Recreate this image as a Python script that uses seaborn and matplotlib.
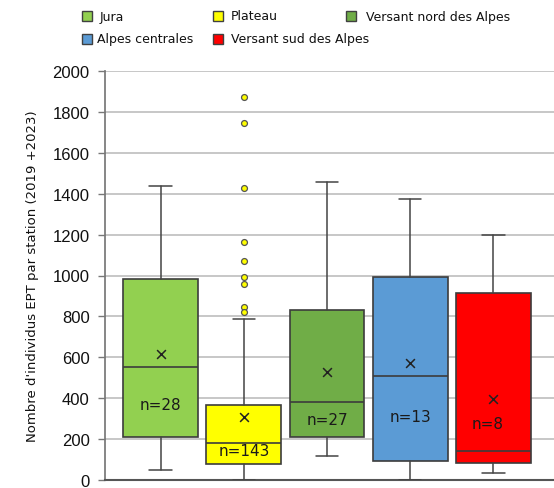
import matplotlib
matplotlib.use("Agg")
import matplotlib.pyplot as plt
from matplotlib.patches import Rectangle
import seaborn as sns
import pandas as pd

# ---- data ----
regions = ["Jura", "Plateau", "Versant nord des Alpes", "Alpes centrales", "Versant sud des Alpes"]
colors = ["#92d050", "#ffff00", "#70ad47", "#5b9bd5", "#ff0000"]
whis_low = [50, 0, 117, 0, 34]
q1 = [208, 76, 208, 94, 83]
median = [553, 182, 379, 510, 144]
q3 = [984, 365, 832, 995, 916]
whis_high = [1439, 788, 1455, 1372, 1198]
means = [615, 308, 529, 570, 398]
counts = [28, 143, 27, 13, 8]
n_label_y = [370, 145, 298, 311, 274]
plateau_outliers = [1875, 1745, 1426, 1163, 1072, 994, 959, 848, 821]
yticks = list(range(0, 2001, 200))
ylabel = "Nombre d'individus EPT par station (2019 +2023)"

sns.set_theme(style="white")
plt.rcParams["font.family"] = ["DejaVu Sans"]

W, H = 554, 489
y0, y2000 = 481, 72
fig = plt.figure(figsize=(W / 100, H / 100), dpi=100)
ax = fig.add_axes([105 / W, (H - y0) / H, 1 - 105 / W, (y0 - y2000) / H])

pos = list(range(len(regions)))
stats = []
for i, r in enumerate(regions):
    stats.append(dict(label=r, whislo=whis_low[i], q1=q1[i], med=median[i],
                      q3=q3[i], whishi=whis_high[i], fliers=[]))

edge = "#3c3c3c"
bp = ax.bxp(stats, positions=pos, widths=0.9, patch_artist=True,
            showfliers=False, capwidths=0.27, manage_ticks=False,
            boxprops=dict(edgecolor=edge, linewidth=1.2),
            whiskerprops=dict(color="#444444", linewidth=1.1),
            capprops=dict(color="#444444", linewidth=1.1),
            medianprops=dict(color=edge, linewidth=1.2), zorder=3)
for patch, c in zip(bp["boxes"], colors):
    patch.set_facecolor(c)

# means
mdf = pd.DataFrame({"x": pos, "y": means})
sns.scatterplot(data=mdf, x="x", y="y", marker="x", color="#222222", s=40,
                linewidth=1.1, ax=ax, zorder=5)
# outliers of Plateau
odf = pd.DataFrame({"x": [1] * len(plateau_outliers), "y": plateau_outliers})
sns.scatterplot(data=odf, x="x", y="y", marker="o", color="#ffff00",
                edgecolor="#555555", linewidth=0.9, s=18, ax=ax, zorder=5)

for i in pos:
    ax.text(i - (0.07 if i == 4 else 0), n_label_y[i], f"n={counts[i]}",
            ha="center", va="center", fontsize=11, color="#1a1a1a", zorder=6)

ax.set_xlim(-0.67, 4.73)
ax.set_ylim(0, 2000)
ax.set_yticks(yticks)
ax.set_yticklabels([str(t) for t in yticks], family="Liberation Sans", fontsize=12,
                   color="#111111")
ax.set_xticks([])
ax.set_xlabel("")
ax.set_ylabel(ylabel, fontsize=9.5, labelpad=10, color="#111111")
ax.yaxis.grid(True, color="#bdbdbd", linewidth=1.2)
ax.set_axisbelow(True)
ax.tick_params(axis="y", length=5, width=1, color="#777777", pad=6, left=True)
for s in ["top", "right"]:
    ax.spines[s].set_visible(False)
ax.spines["left"].set_color("#777777")
ax.spines["bottom"].set_color("#555555")
ax.spines["bottom"].set_linewidth(1.5)

# legend laid out as in the reference (grid of 3 columns)
leg_items = [(82, 17, 100), (213, 17, 231), (346, 17, 366), (82, 40, 97), (213, 40, 231)]
for (mx, my, tx), name, c in zip(leg_items, regions, colors):
    fig.patches.append(Rectangle((mx / W, 1 - (my + 5) / H), 10 / W, 10 / H,
                                 transform=fig.transFigure, facecolor=c,
                                 edgecolor="#404040", linewidth=1))
    fig.text(tx / W, 1 - my / H, name, ha="left", va="center", fontsize=9, color="#111111")

fig.savefig("out.png", dpi=100)
